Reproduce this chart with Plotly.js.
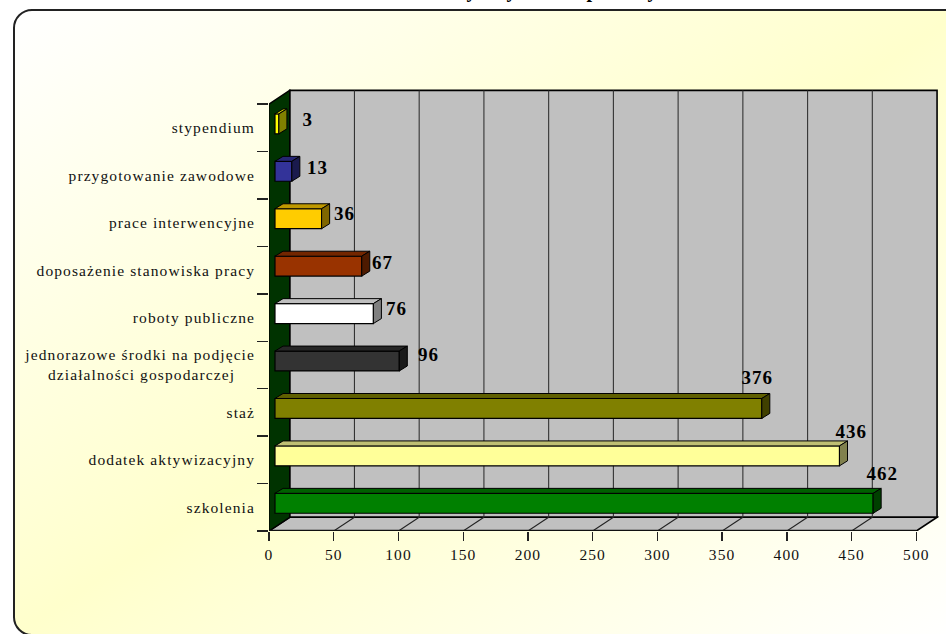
<!DOCTYPE html>
<html><head><meta charset="utf-8">
<script src="https://cdn.plot.ly/plotly-3.0.1.min.js"></script>
<style>
html,body{margin:0;padding:0;width:946px;height:634px;overflow:hidden;background:#fff;}
#bg{position:absolute;left:13px;top:9px;width:952px;height:627px;box-sizing:border-box;border:2px solid #222;border-radius:19px;
background:linear-gradient(to bottom right,#ffffff 0%,#ffffcc 50%,#ffffff 100%);}
#chart{position:absolute;left:0;top:0;width:946px;height:634px;}
.xtick text,.ytick text{letter-spacing:1.1px;}
.annotation text{letter-spacing:1px;}
</style></head><body>
<div id="bg"></div><div id="chart"></div>
<script>
// Data
const categories=["szkolenia","dodatek aktywizacyjny","staż","jednorazowe środki na podjęcie<br>działalności gospodarczej\u00A0\u00A0\u00A0\u00A0","roboty publiczne","doposażenie stanowiska pracy","prace interwencyjne","przygotowanie zawodowe","stypendium"];
const values=[462,436,376,96,76,67,36,13,3];
const barColors=["#008000","#FFFF99","#808000","#333333","#FFFFFF","#993300","#FFCC00","#333399","#FFFF00"];
const xTicks=[0,50,100,150,200,250,300,350,400,450,500];
const titleFragments="y\u00A0\u00A0\u00A0\u00A0\u00A0\u00A0y\u00A0\u00A0\u00A0\u00A0\u00A0\u00A0\u00A0\u00A0\u00A0\u00A0\u00A0\u00A0\u00A0\u00A0p\u00A0\u00A0\u00A0\u00A0\u00A0\u00A0\u00A0\u00A0\u00A0\u00A0y";
// label nudges in px: [right, up]
const labelDx=[15,18.5,2,35,29,27,29,32,35];
const labelDy=[34,28,35,10.8,8.8,8,9.6,8,8.8];

// 3-D look, in axis units
const wallDx=16, wallDy=0.289;
const barX0=4.63, barShift=0.084, barH=0.42, depthDx=6.2, depthDy=0.105;
const yMin=-0.5, yMax=categories.length-0.5;
const bounds=categories.map((c,i)=>i-0.5).concat([yMax]);

function shade(hex,f){
  const n=parseInt(hex.slice(1),16);
  const p=[(n>>16)&255,(n>>8)&255,n&255].map(v=>Math.round(v*f));
  return `rgb(${p[0]},${p[1]},${p[2]})`;
}
function poly(pts,fill,lw,lc){
  return {type:'path',xref:'x',yref:'y',layer:'below',
    path:'M'+pts.map(p=>p[0]+','+p[1]).join('L')+'Z',
    fillcolor:fill,line:{color:lc||'#000',width:lw}};
}
function seg(a,b,c,w){
  return {type:'line',xref:'x',yref:'y',layer:'below',x0:a[0],y0:a[1],x1:b[0],y1:b[1],line:{color:c,width:w}};
}
const xEnd=xTicks[xTicks.length-1];
const shapes=[
  poly([[wallDx,yMin+wallDy],[xEnd+wallDx,yMin+wallDy],[xEnd+wallDx,yMax+wallDy],[wallDx,yMax+wallDy]],'#C0C0C0',1.6),
  poly([[0,yMin],[xEnd,yMin],[xEnd+wallDx,yMin+wallDy],[wallDx,yMin+wallDy]],'#C0C0C0',1.6),
  poly([[0,yMin],[wallDx,yMin+wallDy],[wallDx,yMax+wallDy],[0,yMax]],'#003300',1.4)
];
xTicks.slice(1,-1).forEach(t=>{
  shapes.push(seg([t+wallDx,yMin+wallDy],[t+wallDx,yMax+wallDy],'#333',1.1));
});
xTicks.slice(1,-1).forEach(t=>{
  shapes.push(seg([t,yMin],[t+wallDx,yMin+wallDy],'#222',1.1));
});
shapes.push(seg([0,yMin],[xEnd,yMin],'#111',2.4));

const traces=[{
  type:'bar',orientation:'h',y:categories.map((c,i)=>i),x:values,base:barX0,
  width:barH,offset:-barH/2+barShift,
  marker:{color:barColors,line:{color:'#000',width:1.2}},hoverinfo:'skip',showlegend:false
}];
values.forEach((v,i)=>{
  const x0=barX0,x1=barX0+v,yb=i+barShift-barH/2,yt=i+barShift+barH/2;
  traces.push({type:'scatter',mode:'lines',fill:'toself',fillcolor:shade(barColors[i],0.75),
    line:{color:'#000',width:1},hoverinfo:'skip',showlegend:false,
    x:[x0,x0+depthDx,x1+depthDx,x1,x0],y:[yt,yt+depthDy,yt+depthDy,yt,yt]});
  traces.push({type:'scatter',mode:'lines',fill:'toself',fillcolor:shade(barColors[i],0.5),
    line:{color:'#000',width:1},hoverinfo:'skip',showlegend:false,
    x:[x1,x1+depthDx,x1+depthDx,x1,x1],y:[yt,yt+depthDy,yb+depthDy,yb,yt]});
});
const annotations=values.map((v,i)=>({
  xref:'x',yref:'y',x:v,y:i,text:String(v),showarrow:false,xanchor:'center',yanchor:'middle',
  xshift:labelDx[i],yshift:labelDy[i],
  font:{family:'"Liberation Serif",serif',size:19,color:'#000',weight:700}
}));
const fontAxis={family:'"Liberation Serif",serif',size:15.5,color:'#111'};
const layout={
  width:946,height:634,paper_bgcolor:'rgba(0,0,0,0)',plot_bgcolor:'rgba(0,0,0,0)',
  margin:{l:269,r:7,t:88,b:103.3,autoexpand:false},showlegend:false,hovermode:false,
  barmode:'overlay',
  title:{text:titleFragments,xref:'container',x:562/946,xanchor:'center',yref:'container',y:1,yanchor:'bottom',pad:{b:3},
    font:{family:'"Liberation Serif",serif',size:20,color:'#000',weight:700}},
  xaxis:{range:[0,517.5],tickmode:'array',tickvals:xTicks,ticktext:xTicks.map(String),ticks:'outside',ticklen:9,tickwidth:1.3,tickcolor:'#222',
    showgrid:false,zeroline:false,showline:false,tickfont:fontAxis,tickangle:0,automargin:false},
  yaxis:{range:[yMin,yMax+0.34],tickmode:'array',tickvals:categories.map((c,i)=>i),ticktext:categories,ticks:'',
    minor:{tickmode:'array',tickvals:bounds,ticks:'outside',ticklen:11,tickwidth:1.3,tickcolor:'#222',showgrid:false},
    ticklabelstandoff:13,showgrid:false,zeroline:false,showline:false,tickfont:fontAxis,automargin:false},
  shapes:shapes,annotations:annotations
};
Plotly.newPlot('chart',traces,layout,{displayModeBar:false,staticPlot:true});
</script>
</body></html>
